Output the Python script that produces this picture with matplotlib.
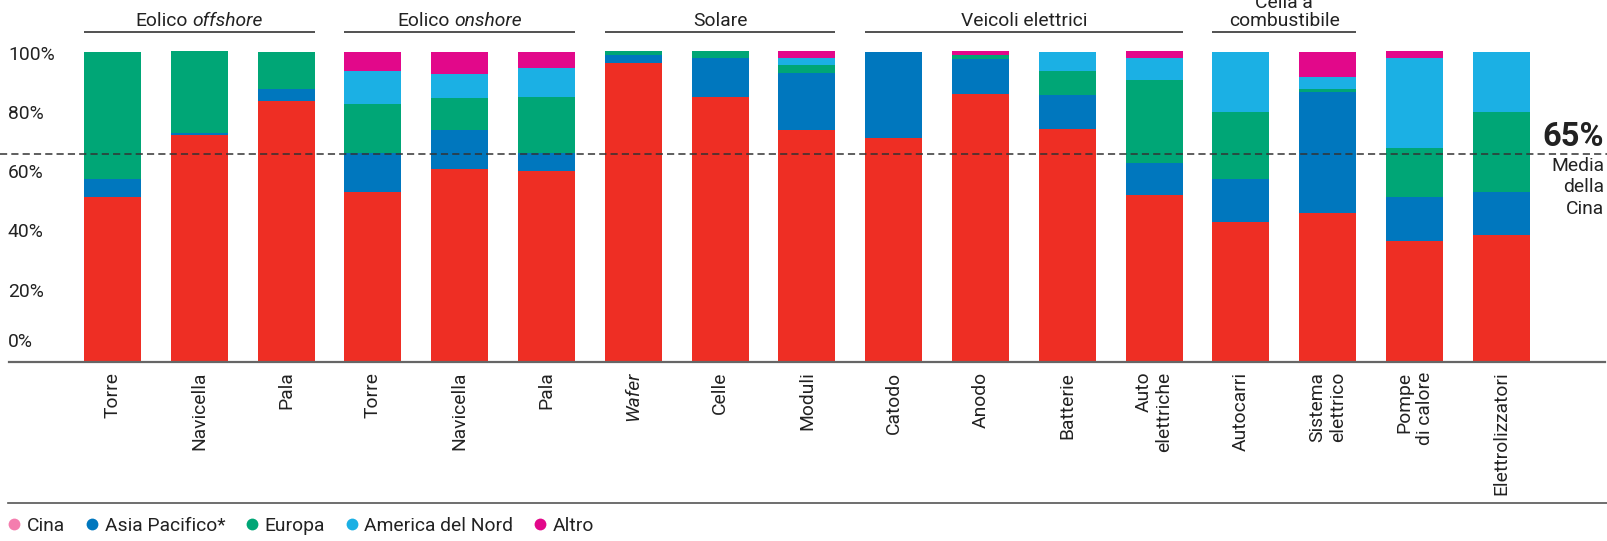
import numpy as np
import matplotlib
matplotlib.use("Agg")
import matplotlib.pyplot as plt
from matplotlib import transforms
from matplotlib.lines import Line2D

plt.rcParams['font.family'] = ['Roboto', 'DejaVu Sans']

# ---------------- data ----------------
categories = ["Torre", "Navicella", "Pala", "Torre", "Navicella", "Pala",
              "Wafer", "Celle", "Moduli", "Catodo", "Anodo", "Batterie",
              "Auto\nelettriche", "Autocarri", "Sistema\nelettrico",
              "Pompe\ndi calore", "Elettrolizzatori"]
cina    = [53.0, 73.0, 84.2, 54.9, 62.2, 61.4, 96.2, 85.3, 74.9, 72.3, 86.5, 75.1, 53.8, 45.2, 48.0, 39.0, 40.9]
asia    = [5.8, 0.9, 3.9, 12.3, 12.6, 5.8, 2.8, 12.8, 18.3, 27.7, 11.2, 11.0, 10.3, 13.6, 39.1, 14.0, 13.9]
europa  = [41.2, 26.2, 11.9, 16.0, 10.3, 18.3, 1.3, 2.2, 2.6, 0.0, 1.3, 7.8, 26.8, 21.8, 1.0, 16.0, 25.8]
america = [0.0, 0.0, 0.0, 10.7, 7.8, 9.3, 0.0, 0.0, 2.3, 0.0, 0.0, 6.1, 7.1, 19.4, 3.8, 29.1, 19.4]
altro   = [0.0, 0.0, 0.0, 6.1, 7.1, 5.2, 0.0, 0.0, 2.2, 0.0, 1.3, 0.0, 2.2, 0.0, 8.1, 2.2, 0.0]
series_names = ["Cina", "Asia Pacifico*", "Europa", "America del Nord", "Altro"]

group_plain  = ["Eolico", "Eolico", "Solare", "Veicoli elettrici", "Cella a\ncombustibile"]
group_italic = ["offshore", "onshore", "", "", ""]
group_first  = [0, 3, 6, 9, 13]
group_last   = [2, 5, 8, 12, 14]
italic_ticks = ["Wafer"]

ytick_values = [100, 80, 60, 40, 20, 0]
china_avg_text = "65%"
china_avg_line = 67
china_avg_note = "Media\ndella\nCina"

# ---------------- style ----------------
bar_colors = ["#EE2E24", "#0077BE", "#00A676", "#1BB0E4", "#E2088A"]
legend_colors = ["#F47DAE", "#0077BE", "#00A676", "#1BB0E4", "#E2088A"]
txt = "#222222"
fs = 13.9

W, H = 1607, 541
fig = plt.figure(figsize=(W / 100, H / 100), dpi=100)
base_px, top_px = 361.7, 51.7
ax = fig.add_axes([0, 1 - base_px / H, 1, (base_px - top_px) / H])
step, first = 86.8, 112.5
ax.set_xlim(-first / step, (W - first) / step)
ax.set_ylim(0, 100)
for s in ax.spines.values():
    s.set_visible(False)
ax.set_yticks([])

x = np.arange(len(categories))
bottom = np.zeros(len(categories))
for vals, col in zip([cina, asia, europa, america, altro], bar_colors):
    vals = np.array(vals)
    ax.bar(x, vals, bottom=bottom, width=0.657, color=col, linewidth=0,
           clip_on=False, zorder=2)
    bottom += vals

# baseline and average line
ax.axhline(0, xmin=9 / W, xmax=1605 / W, color="#666666", lw=1.6, zorder=3, clip_on=False)
ax.axhline(china_avg_line, xmin=0, xmax=1, color="#333333", lw=1.1,
           dashes=(4.7, 2.7), zorder=3)

# x tick labels
ax.set_xticks(x)
ax.set_xticklabels(categories, rotation=90, fontsize=fs, color=txt, va="top", ha="center")
ax.tick_params(axis="x", length=0, pad=7.2)
for lbl in ax.get_xticklabels():
    lbl.set_multialignment("right")
    if lbl.get_text() in italic_ticks:
        lbl.set_fontstyle("italic")

# y labels (designer placement)
ylab_px = [55, 114, 173, 232, 291.7, 341.7]
for v, py in zip(ytick_values, ylab_px):
    fig.text(8 / W, 1 - py / H, f"{v}%", ha="left", va="center", fontsize=fs, color=txt)

# group labels
trans = transforms.blended_transform_factory(ax.transData, fig.transFigure)
renderer = fig.canvas.get_renderer()
y_lab = 1 - 30 / H
y_line = 1 - 31.7 / H
for a, b, s, e in zip(group_plain, group_italic, group_first, group_last):
    cx = (s + e) / 2
    if b:
        t1 = ax.text(cx, y_lab, a, transform=trans, ha="left", va="bottom", fontsize=fs, color=txt)
        t2 = ax.text(cx, y_lab, b, transform=trans, ha="left", va="bottom", fontsize=fs,
                     color=txt, style="italic")
        w1 = t1.get_window_extent(renderer).width
        w2 = t2.get_window_extent(renderer).width
        gap = 0.26 * fs * 100 / 72
        total = w1 + gap + w2
        x0 = ax.transData.transform((cx, 0))[0] - total / 2
        inv = ax.transData.inverted()
        t1.set_x(inv.transform((x0, 0))[0])
        t2.set_x(inv.transform((x0 + w1 + gap, 0))[0])
    else:
        ax.text(cx, y_lab, a, transform=trans, ha="center", va="bottom", fontsize=fs,
                color=txt, multialignment="center", linespacing=1.0)
    ax.plot([s - 0.3285, e + 0.3285], [y_line, y_line], transform=trans, color="#333333",
            lw=1.2, clip_on=False, solid_capstyle="butt")

# average annotation
fig.text(1604 / W, 1 - 136.7 / H, china_avg_text, ha="right", va="center", fontsize=23.5,
         fontweight="bold", color=txt)
fig.text(1604 / W, 1 - 157 / H, china_avg_note, ha="right", va="top", multialignment="right",
         fontsize=fs, color=txt, linespacing=1.25)

# bottom rule
fig.add_artist(Line2D([8 / W, 1], [1 - 503.3 / H] * 2, color="#555555", lw=1.2))

# legend
handles = [Line2D([], [], marker="o", ls="", markersize=8.5, markerfacecolor=c,
                  markeredgewidth=0) for c in legend_colors]
fig.legend(handles, series_names, loc="center left", bbox_to_anchor=(8.5 / W, 1 - 526 / H),
           ncol=5, frameon=False, borderpad=0, borderaxespad=0, handlelength=0.6,
           handletextpad=0.36, columnspacing=1.08, fontsize=fs, labelcolor=txt)

fig.savefig("out.png", dpi=100)
